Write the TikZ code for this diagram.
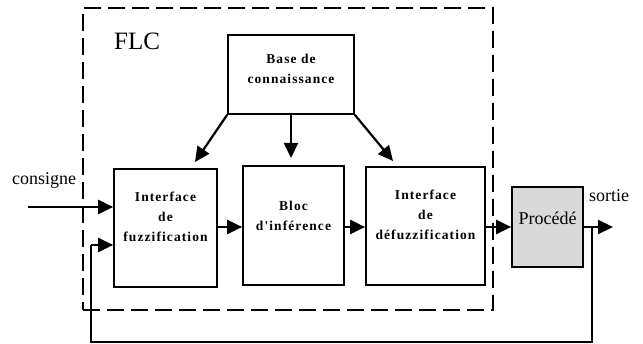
\documentclass[tikz,border=0pt]{standalone}
\usepackage{fontspec}
\setmainfont{Liberation Serif}
\newfontfamily\boxfont[LetterSpace=8]{Liberation Serif}
\usetikzlibrary{arrows.meta}
\begin{document}
\begin{tikzpicture}[x=1pt,y=-1pt,
  box/.style={draw,line width=1.7pt,inner sep=0pt},
  boxtext/.style={align=center,font=\boxfont\bfseries\fontsize{13.5}{20}\selectfont,inner sep=0pt},
  plain/.style={font=\fontsize{18}{20}\selectfont,inner sep=0pt},
  arr/.style={line width=2.2pt,-{Triangle[length=15pt,width=14pt]}},
  ln/.style={line width=1.8pt}]
\useasboundingbox (0,0) rectangle (643,344);
% dashed FLC frame
\node[draw,line width=1.8pt,dash pattern=on 17pt off 7pt,minimum width=410pt,minimum height=302pt,inner sep=0pt] (flc) at (288,159) {};
\node[plain,font=\fontsize{25}{25}\selectfont,anchor=west] (flcT) at (114,41) {FLC};
% boxes
\node[box,minimum width=126pt,minimum height=79pt] (base) at (291,74.5) {};
\node[boxtext] (baseT) at (291,68.5) {Base de\\connaissance};
\node[box,minimum width=103pt,minimum height=118pt] (fuzz) at (165.5,228) {};
\node[boxtext] (fuzzT) at (165.5,217) {Interface\\de\\fuzzification};
\node[box,minimum width=101pt,minimum height=119pt] (bloc) at (293.5,225.5) {};
\node[boxtext] (blocT) at (293.5,215.5) {Bloc\\d'inférence};
\node[box,minimum width=119pt,minimum height=118pt] (defuzz) at (425.5,226) {};
\node[boxtext] (defuzzT) at (425.5,215) {Interface\\de\\défuzzification};
\node[box,fill=black!15,minimum width=71pt,minimum height=80pt] (proc) at (547.5,227) {};
\node[plain] (procT) at (547.5,218) {Procédé};
% labels
\node[plain,anchor=west] (cons) at (12,180) {consigne};
\node[plain,anchor=west] (sort) at (589,196) {sortie};
% coordinates
\coordinate (in) at (28,207);
\coordinate (tipL) at (195,162);
\coordinate (tipM) at (291,158);
\coordinate (tipR) at (393,161);
\coordinate (out) at (613,227);
\coordinate (fbA) at (592,227);
\coordinate (fbB) at (592,342);
\coordinate (fbC) at (91,342);
\coordinate (fbD) at (91,245);
% arrows
\draw[arr] (base.south west) -- (tipL);
\draw[arr] (base.south) -- (tipM);
\draw[arr] (base.south east) -- (tipR);
\draw[arr] (in) -- (fuzz.west |- in);
\draw[arr] (fuzz.east |- out) -- (bloc.west |- out);
\draw[arr] (bloc.east |- out) -- (defuzz.west |- out);
\draw[arr] (defuzz.east |- out) -- (proc.west |- out);
\draw[arr] (proc.east |- out) -- (out);
\draw[ln] (fbA) -- (fbB) -- (fbC) -- (fbD);
\draw[arr] (fbD) -- (fuzz.west |- fbD);
\end{tikzpicture}
\end{document}
